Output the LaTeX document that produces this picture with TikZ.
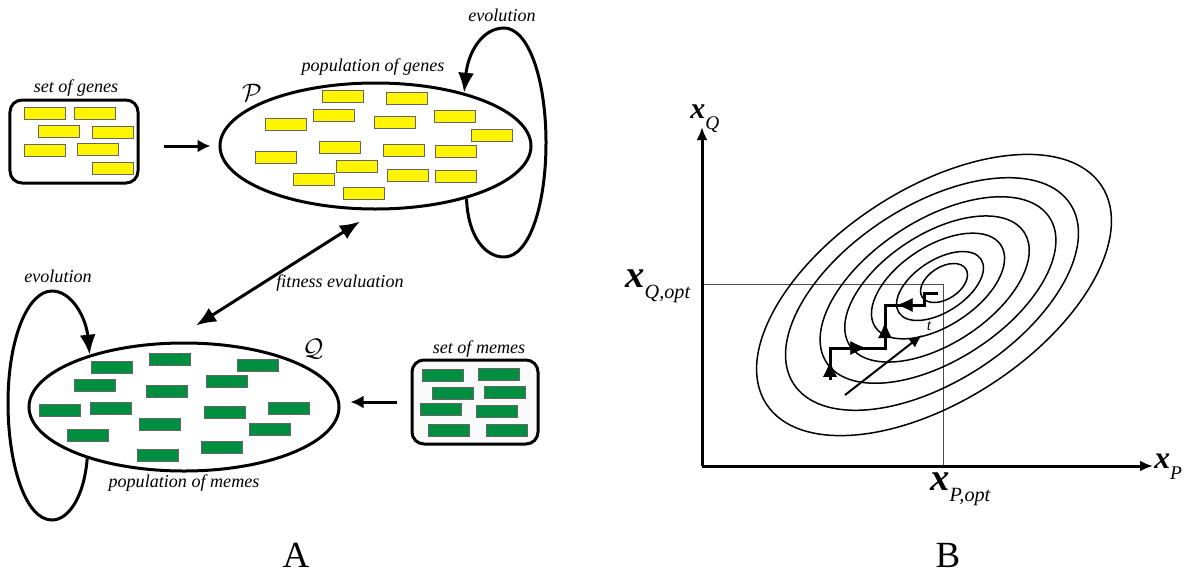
\documentclass[tikz,border=0pt]{standalone}
\usepackage{fontspec}
\setmainfont{Liberation Serif}
\usetikzlibrary{shapes.geometric, arrows.meta, decorations.markings}
\definecolor{geneyellow}{RGB}{255,245,0}
\definecolor{memegreen}{RGB}{0,142,64}
% bold italic x with a lowered subscript
\newcommand{\axlab}[3]{{\fontsize{#1}{#1}\selectfont\bfseries\itshape x}\raisebox{-2.2mm}{\fontsize{#2}{#2}\selectfont\itshape #3}}

\begin{document}
\begin{tikzpicture}[
x=0.2mm, y=0.2mm,
gene/.style={
        draw=black!60,
        line width=0.2mm,
        fill=geneyellow,
        minimum width=8.2mm,
        minimum height=2.4mm,
        inner sep=0pt,
    },
meme/.style={gene, fill=memegreen},
pool/.style = {
   draw,
   ellipse,
   line width = 0.6mm,
   inner sep=0pt,
   },
setbox/.style = {
   draw,
   rounded corners=2.4mm,
   line width = 0.6mm,
   inner sep=0pt,
   },
caption/.style={font=\fontsize{10.3}{12}\selectfont\itshape, inner sep=0pt},
bigarrow/.style={line width=0.6mm, -{Latex[length=4mm,width=3.2mm]}},
smallarrow/.style={line width=0.6mm, -{Latex[length=2.6mm,width=2.6mm]}},
axis/.style={line width=0.6mm, -{Latex[length=2.6mm,width=2.2mm]}},
contour/.style={line width=0.3mm},
stepline/.style={line width=0.6mm},
midarrow/.style={postaction={decorate}, decoration={markings, mark=at position #1 with {\arrow{Latex[length=3.2mm,width=2.8mm]}}}},
 ]
\useasboundingbox (0,0) rectangle (1200,573);

% ---- A: genes and memes
\node[setbox, minimum width=25.6mm, minimum height=16.6mm] (genes) at (74,431.5) {};
\node[setbox, fill=black!2, minimum width=25.2mm, minimum height=16.8mm] (memes) at (475,171) {};
\node[pool, minimum width=62.2mm, minimum height=25.2mm] (P) at (375.5,427) {};
\node[pool, minimum width=62mm, minimum height=25.6mm] (Q) at (184,166) {};

\foreach \x/\y [count=\i] in {44.5/459.5, 94.5/460, 58.5/441.5, 112.5/441, 44.5/423, 97.5/424, 113/405}
   \node[gene] (sg\i) at (\x,\y) {};
\foreach \x/\y [count=\i] in {343/476.5, 406.5/474.5, 334/458, 286/449, 394.5/451, 455/457, 491.5/437.5, 339.5/426,
   276/415.5, 403.5/423, 455.5/422, 356.5/407, 314/394, 407.5/397.5, 456/397, 364/380}
   \node[gene] (pg\i) at (\x,\y) {};
\foreach \x/\y [count=\i] in {112/206, 169.5/213.5, 258/208, 94.5/188, 226.5/191.5, 166.5/181.5, 59.5/163, 110.5/164.5,
   224.5/161, 289/165, 159.5/148.5, 269.5/144, 87.5/138, 222/125.5, 157.5/118}
   \node[meme] (qm\i) at (\x,\y) {};
\foreach \x/\y [count=\i] in {442.5/198, 498.5/199, 452.5/180, 504.5/181, 441/164, 496.5/162, 449/143, 506.5/143}
   \node[meme] (sm\i) at (\x,\y) {};

\node[caption] (setgenes) at (76,485) {set of genes};
\node[caption] (popgenes) at (373,506) {population of genes};
\node[caption] (evolP) at (502,558) {evolution};
\node[font=\fontsize{14}{14}\selectfont] (Plab) at (252,480) {$\mathcal{P}$};
\node[caption] (fitness) at (340,290) {fitness evaluation};
\node[caption] (evolQ) at (58,297) {evolution};
\node[font=\fontsize{14}{14}\selectfont] (Qlab) at (313,224) {$\mathcal{Q}$};
\node[caption] (popmemes) at (184,90) {population of memes};
\node[caption] (setmemes) at (479,224) {set of memes};

\draw[smallarrow, shorten <=4.8mm, shorten >=1.6mm] (genes.east |- P.west) -- (P.west);
\draw[smallarrow, shorten <=2.8mm, shorten >=2mm] (memes.west) -- (memes.west -| Q.east);
\draw[bigarrow, {Latex[length=4mm,width=3.2mm]}-{Latex[length=4mm,width=3.2mm]}] ([shift={(-15.5,-11)}]P.south) -- ([shift={(12,16)}]Q.north);
\draw[bigarrow] (P.-30) .. controls (468,335) and (486,316) .. (504,316) .. controls (530,316) and (546,370) .. (546,430)
   .. controls (546,495) and (528,545) .. (504,545) .. controls (482,545) and (468,520) .. (P.31);
\draw[bigarrow] (Q.-152) .. controls (84,75) and (68,53) .. (52,53) .. controls (25,53) and (8,110) .. (8,170)
   .. controls (8,235) and (28,282) .. (52,282) .. controls (72,282) and (86,255) .. (Q.151);

\node[font=\fontsize{21}{21}\selectfont] (Alab) at (296,18) {A};

% ---- B: search in the (x_P, x_Q) plane
\coordinate (O) at (702,107);
\coordinate (ytip) at (702,446);
\coordinate (xtip) at (1153,107);
\coordinate (opt) at (943,289);
\draw[black!70, line width=0.2mm] (O |- opt) -- (opt) -- (O -| opt);
\draw[axis] (O) -- (ytip);
\draw[axis] (O) -- (xtip);

\foreach \cx/\cy/\a/\b in {934/278/200/106, 932/279/165/88, 938/283/133/70, 937/284/104/55, 938/287/75/40, 940/287/49/26, 944/290/26/16}
   \draw[contour, rotate around={33:(\cx,\cy)}] (\cx,\cy) ellipse [x radius=\a, y radius=\b];

\coordinate (s0) at (830,193);
\coordinate (s1) at (830,225);
\coordinate (s2) at (885,225);
\coordinate (s3) at (885,268);
\coordinate (s4) at (924,268);
\coordinate (s5) at (924,280);
\coordinate (s6) at (938,280);
\draw[stepline] (s0) -- (s1) -- (s2) -- (s3) -- (s4) -- (s5) -- (s6);
\path[midarrow=0.6] (s0) -- (s1);
\path[midarrow=0.66] (s1) -- (s2);
\path[midarrow=0.6] (s2) -- (s3);
\path[midarrow=0.7] (s4) -- (s3);
\draw[line width=0.4mm, -{Latex[length=2.6mm,width=2.2mm]}] (845,178) -- (922,238);
\node[font=\fontsize{9}{9}\selectfont\itshape] (tlab) at (929,247) {t};

\node[anchor=base west, inner sep=0pt] (xQ) at (690,455) {\axlab{17}{11}{Q}};
\node[anchor=base west, inner sep=0pt] (xQopt) at (625,286) {\axlab{22}{11.5}{Q,opt}};
\node[anchor=base west, inner sep=0pt] (xPopt) at (930,83) {\axlab{22}{11.5}{P,opt}};
\node[anchor=base west, inner sep=0pt] (xP) at (1154,105) {\axlab{18}{11}{P}};

\node[font=\fontsize{21}{21}\selectfont] (Blab) at (948,18) {B};
\end{tikzpicture}
\end{document}
